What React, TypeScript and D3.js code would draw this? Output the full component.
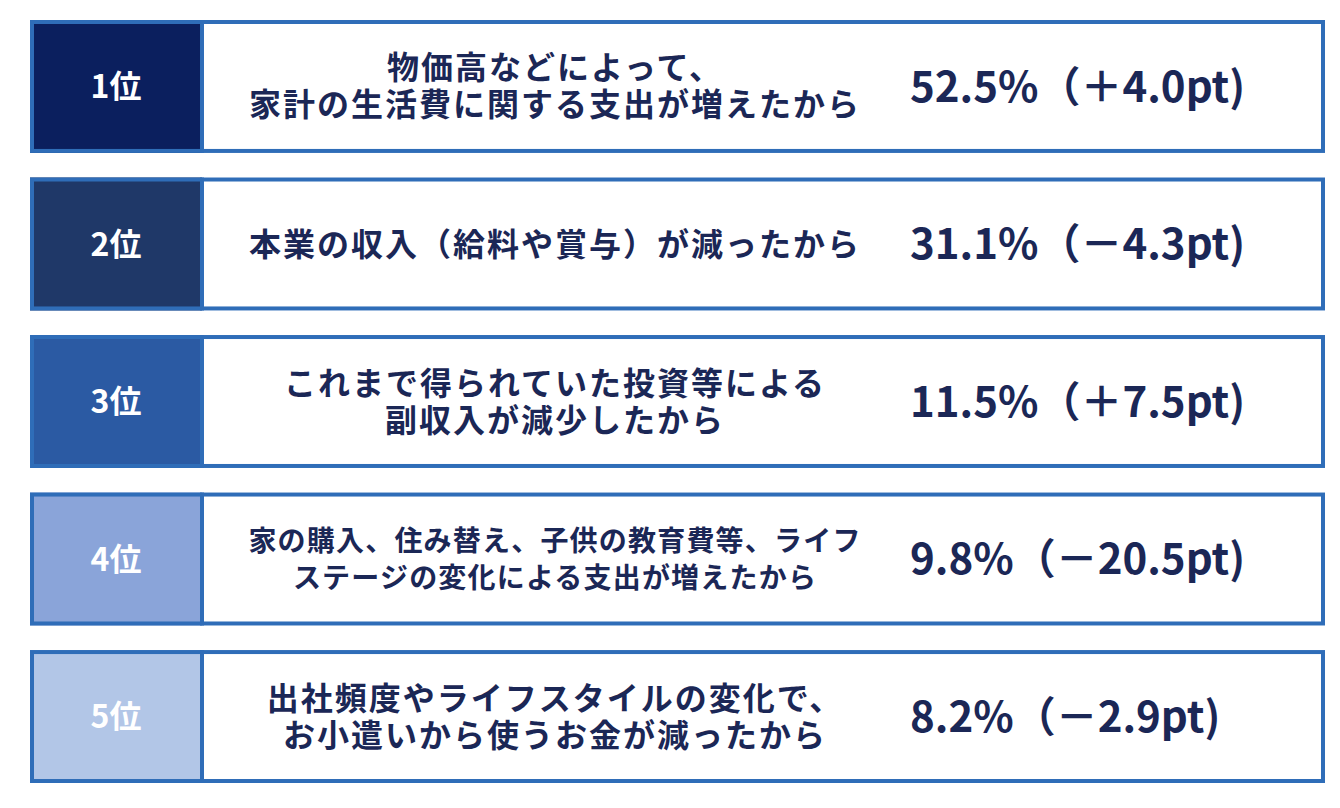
import React from 'react';
import * as d3 from 'd3';

// Ranking of reasons (survey)
const ranks = ['1位', '2位', '3位', '4位', '5位'];
const reasons: string[][] = [
  ['物価高などによって、', '家計の生活費に関する支出が増えたから'],
  ['本業の収入（給料や賞与）が減ったから'],
  ['これまで得られていた投資等による', '副収入が減少したから'],
  ['家の購入、住み替え、子供の教育費等、ライフ', 'ステージの変化による支出が増えたから'],
  ['出社頻度やライフスタイルの変化で、', 'お小遣いから使うお金が減ったから'],
];
const shares = [52.5, 31.1, 11.5, 9.8, 8.2];
const diffs = [4.0, -4.3, 7.5, -20.5, -2.9];
const rankColors = ['#0b1f5e', '#1f3868', '#2b5aa3', '#8aa4d9', '#b2c6e7'];

const W = 1340;
const H = 808;
const BORDER = '#2f6db8';
const INK = '#1b2756';
const FONT = '"Noto Sans CJK JP", "Noto Sans", sans-serif';

const App: React.FC = () => {
  const y = d3.scaleBand<string>()
    .domain(ranks)
    .range([20, 783])
    .paddingInner(0.156);

  const left = 30;
  const right = 1325;
  const split = 202;
  const bw = y.bandwidth();

  const fmtDiff = (d: number) => (d >= 0 ? '＋' : '－') + Math.abs(d).toFixed(1) + 'pt';

  return (
    <svg
      width={W}
      height={H}
      style={{ position: 'absolute', left: 0, top: 0, background: '#ffffff' }}
    >
      {ranks.map((r, i) => {
        const top = y(r) ?? 0;
        const cy = top + bw / 2;
        const lines = reasons[i];
        const small = lines.some(l => l.length > 19);
        const fs = small ? 28 : 32;
        const lh = 37;
        return (
          <g key={r}>
            <rect x={left} y={top} width={split - left} height={bw} fill={rankColors[i]} />
            <rect
              x={left + 2}
              y={top + 2}
              width={right - left - 4}
              height={bw - 4}
              fill="none"
              stroke={BORDER}
              strokeWidth={4}
            />
            <line x1={split} x2={split} y1={top} y2={top + bw} stroke={BORDER} strokeWidth={4} />
            <text
              x={(left + split) / 2}
              y={cy}
              dy="0.36em"
              textAnchor="middle"
              fill="#ffffff"
              fontFamily={FONT}
              fontWeight={700}
              fontSize={32}
            >
              {r}
            </text>
            {/* reason label, wrapped into tspans */}
            <text
              textAnchor="middle"
              fill={INK}
              fontFamily={FONT}
              fontWeight={700}
              fontSize={fs}
              letterSpacing={small ? 1.2 : 2}
            >
              {lines.map((l, j) => (
                <tspan
                  key={j}
                  x={555}
                  y={cy + (j - (lines.length - 1) / 2) * lh}
                  dy="0.36em"
                >
                  {l}
                </tspan>
              ))}
            </text>
            <text
              x={910}
              y={cy}
              dy="0.36em"
              fill={INK}
              fontFamily={FONT}
              fontWeight={700}
              fontSize={42}
            >
              {shares[i].toFixed(1) + '%（' + fmtDiff(diffs[i]) + ')'}
            </text>
          </g>
        );
      })}
    </svg>
  );
};

export default App;
